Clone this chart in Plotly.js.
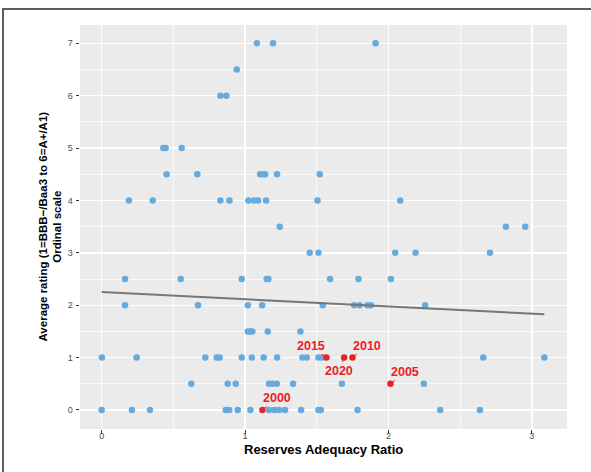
<!DOCTYPE html>
<html>
<head>
<meta charset="utf-8">
<script src="https://cdn.plot.ly/plotly-3.0.1.min.js"></script>
<style>
  html, body { margin: 0; padding: 0; background: #ffffff; }
  #wrap { position: relative; width: 591px; height: 472px; overflow: hidden; }
  #chart { width: 591px; height: 472px; }
  #frame { position: absolute; left: 2px; top: 8px; right: -10px; bottom: -10px;
           border-left: 2px solid #5e5e5e; border-top: 2px solid #5e5e5e; pointer-events: none; }
</style>
</head>
<body>
<div id="wrap">
  <div id="chart"></div>
  <div id="frame"></div>
</div>
<script>
// ---- Data ----
const ratioX = [
  1.082, 1.195, 1.910,
  0.942,
  0.828, 0.870,
  0.430, 0.446, 0.558,
  0.453, 0.667, 1.105, 1.123, 1.140, 1.223, 1.521,
  0.190, 0.356, 0.828, 0.891, 1.023, 1.063, 1.091, 1.147, 1.505, 2.082,
  1.242, 2.819, 2.954,
  1.451, 1.512, 2.047, 2.189, 2.708,
  0.163, 0.551, 0.977, 1.151, 1.163, 1.593, 1.791, 2.017,
  0.163, 0.672, 1.019, 1.119, 1.542, 1.761, 1.798, 1.854, 1.877, 2.256,
  1.019, 1.037, 1.051, 1.158, 1.386,
  0.002, 0.244, 0.723, 0.802, 0.823, 0.977, 1.047, 1.130, 1.223, 1.400, 1.430, 1.512, 1.535, 2.661, 3.087,
  0.625, 0.879, 0.935, 1.167, 1.190, 1.221, 1.335, 1.675, 2.247,
  0.000, 0.211, 0.337, 0.865, 0.890, 0.949, 1.037, 1.167, 1.204, 1.237, 1.279, 1.391, 1.512, 1.528, 1.784, 2.361, 2.638
];
const ratingY = [
  7, 7, 7,
  6.5,
  6, 6,
  5, 5, 5,
  4.5, 4.5, 4.5, 4.5, 4.5, 4.5, 4.5,
  4, 4, 4, 4, 4, 4, 4, 4, 4, 4,
  3.5, 3.5, 3.5,
  3, 3, 3, 3, 3,
  2.5, 2.5, 2.5, 2.5, 2.5, 2.5, 2.5, 2.5,
  2, 2, 2, 2, 2, 2, 2, 2, 2, 2,
  1.5, 1.5, 1.5, 1.5, 1.5,
  1, 1, 1, 1, 1, 1, 1, 1, 1, 1, 1, 1, 1, 1, 1,
  0.5, 0.5, 0.5, 0.5, 0.5, 0.5, 0.5, 0.5, 0.5,
  0, 0, 0, 0, 0, 0, 0, 0, 0, 0, 0, 0, 0, 0, 0, 0, 0
];
const highlightYears = ["2000", "2005", "2010", "2015", "2020"];
const highlightX = [1.121, 2.014, 1.749, 1.567, 1.691];
const highlightY = [0, 0.5, 1, 1, 1];
const fitX = [0.0, 3.087];
const fitY = [2.252, 1.826];
const xTicks = [0, 1, 2, 3];
const yTicks = [0, 1, 2, 3, 4, 5, 6, 7];

// ---- Styles / label placement (pixels) ----
const labelOffsets = {
  "2000": [15, -12],
  "2005": [15, -12],
  "2010": [15, -12],
  "2015": [-15, -12],
  "2020": [-5, 13]
};
const FONT = "Liberation Sans, Arial, Helvetica, sans-serif";
const BLUE = "#67aade";
const RED = "#ea2027";

const traces = [
  {
    type: "scatter", mode: "markers", x: ratioX, y: ratingY,
    marker: { color: BLUE, size: 6.5, line: { width: 0 } },
    hoverinfo: "x+y", showlegend: false
  },
  {
    type: "scatter", mode: "lines", x: fitX, y: fitY,
    line: { color: "#767676", width: 2 },
    hoverinfo: "skip", showlegend: false
  },
  {
    type: "scatter", mode: "markers", x: highlightX, y: highlightY,
    text: highlightYears,
    marker: { color: RED, size: 6.5, line: { width: 0 } },
    hoverinfo: "text+x+y", showlegend: false
  }
];

const annotations = highlightYears.map((yr, i) => ({
  x: highlightX[i], y: highlightY[i], xref: "x", yref: "y",
  text: "<b>" + yr + "</b>",
  showarrow: true, arrowhead: 0, arrowwidth: 1, arrowcolor: RED,
  standoff: 0, startstandoff: 0,
  ax: labelOffsets[yr][0], ay: labelOffsets[yr][1],
  font: { family: FONT, size: 12.5, color: RED }
}));

annotations.push({
  xref: "paper", yref: "paper", x: 0.5, y: -0.05,
  xanchor: "center", yanchor: "middle", showarrow: false,
  text: "<b>Reserves Adequacy Ratio</b>",
  font: { family: FONT, size: 13, color: "#000000" }
});
annotations.push({
  xref: "paper", yref: "paper", x: -0.0626, y: 0.5,
  xanchor: "center", yanchor: "middle", showarrow: false,
  textangle: -90,
  text: "<b>Average rating (1=BBB−/Baa3 to 6=A+/A1)</b><br><b>Ordinal scale</b>",
  font: { family: FONT, size: 11.5, color: "#000000" }
});

const axisCommon = {
  showgrid: true, gridcolor: "#ffffff", gridwidth: 1.4,
  zeroline: false, showline: false,
  ticks: "outside", ticklen: 3.5, tickwidth: 1, tickcolor: "#333333",
  tickfont: { family: FONT, size: 9, color: "#4d4d4d" },
  tickmode: "array",
  minor: { tickmode: "linear", tick0: 0, dtick: 0.5, showgrid: true, gridcolor: "#ffffff", gridwidth: 0.7, ticks: "" }
};

const layout = {
  width: 591, height: 472,
  margin: { l: 80, r: 24, t: 25, b: 43 },
  paper_bgcolor: "#ffffff",
  plot_bgcolor: "#ebebeb",
  font: { family: FONT },
  showlegend: false,
  xaxis: Object.assign({}, axisCommon, { range: [-0.151, 3.245], tickvals: xTicks, ticktext: xTicks.map(String), ticklabelstandoff: -5 }),
  yaxis: Object.assign({}, axisCommon, { range: [-0.363, 7.35], tickvals: yTicks, ticktext: yTicks.map(String), ticklabelstandoff: 1 }),
  annotations: annotations
};

Plotly.newPlot("chart", traces, layout, { displayModeBar: false, staticPlot: true });
</script>
</body>
</html>
